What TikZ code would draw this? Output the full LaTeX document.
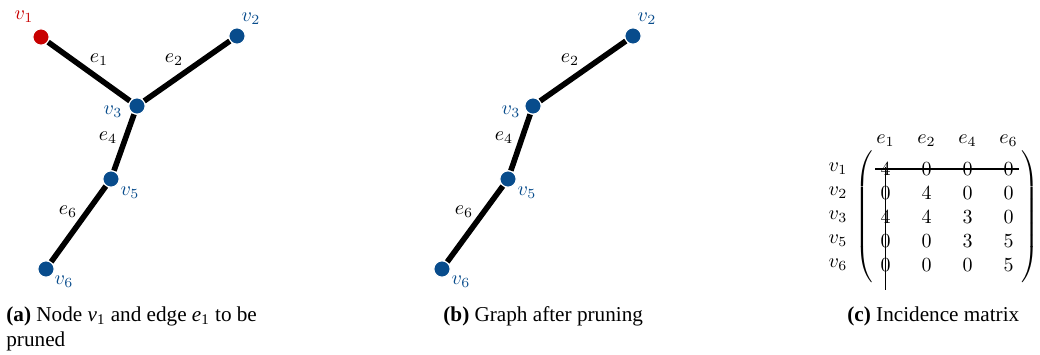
\documentclass[tikz,border=0pt]{standalone}
\usepackage{fontspec}
\setmainfont{Liberation Serif}
\usetikzlibrary{matrix,calc}
\definecolor{vblue}{RGB}{8,76,140}
\definecolor{vred}{RGB}{200,0,0}
\begin{document}
\begin{tikzpicture}[x=0.5pt,y=-0.5pt,
  vert/.style={circle,fill=vblue,draw=white,line width=0.6pt,minimum size=8.2pt,inner sep=0pt},
  rvert/.style={vert,fill=vred},
  edgeline/.style={line width=2.8pt,black},
  vlab/.style={text=vblue,inner sep=0pt},
  rlab/.style={text=vred,inner sep=0pt},
  elab/.style={inner sep=0pt},
  captext/.style={inner sep=0pt,anchor=base west,font=\fontsize{10.6pt}{12.7pt}\selectfont},
  strike/.style={line width=0.6pt,black}]
\useasboundingbox (0,0) rectangle (1040,354);
% ---------- panel (a)
\node[rvert] (a1) at (41,37) {};
\node[vert] (a2) at (237,36) {};
\node[vert] (a3) at (137,106) {};
\node[vert] (a5) at (111,179) {};
\node[vert] (a6) at (46,269) {};
\draw[edgeline] (a1) -- (a3);
\draw[edgeline] (a2) -- (a3);
\draw[edgeline] (a3) -- (a5);
\draw[edgeline] (a5) -- (a6);
\node[rlab] (la1) at (24,17) {$v_1$};
\node[vlab] (la2) at (251,19) {$v_2$};
\node[vlab] (la3) at (113,112) {$v_3$};
\node[vlab] (la5) at (130,193) {$v_5$};
\node[vlab] (la6) at (64,282) {$v_6$};
\node[elab] (le1) at (99,60) {$e_1$};
\node[elab] (le2) at (174,60) {$e_2$};
\node[elab] (le4) at (108,138) {$e_4$};
\node[elab] (le6) at (68,212) {$e_6$};
% ---------- panel (b)
\node[vert] (b2) at (633,36) {};
\node[vert] (b3) at (533,106) {};
\node[vert] (b5) at (508,179) {};
\node[vert] (b6) at (442,269) {};
\draw[edgeline] (b2) -- (b3);
\draw[edgeline] (b3) -- (b5);
\draw[edgeline] (b5) -- (b6);
\node[vlab] (lb2) at (647,19) {$v_2$};
\node[vlab] (lb3) at (511,112) {$v_3$};
\node[vlab] (lb5) at (527,193) {$v_5$};
\node[vlab] (lb6) at (461,282) {$v_6$};
\node[elab] (lbe2) at (570,60) {$e_2$};
\node[elab] (lbe4) at (504,138) {$e_4$};
\node[elab] (lbe6) at (464,212) {$e_6$};
% ---------- panel (c)
\matrix (M) [matrix of math nodes, inner xsep=0pt, inner ysep=4.5pt,
  column sep=10.5pt, row sep=0pt,
  nodes={minimum width=10pt,minimum height=12pt,inner sep=0pt,anchor=center},
  left delimiter=(, right delimiter=)] at (947,217) {
4 & 0 & 0 & 0\\
0 & 4 & 0 & 0\\
4 & 4 & 3 & 0\\
0 & 0 & 3 & 5\\
0 & 0 & 0 & 5\\
};
\coordinate (hdr) at (0,141);
\coordinate (rowx) at (838,0);
\node[elab] (h1) at (M-1-1 |- hdr) {$e_1$};
\node[elab] (h2) at (M-1-2 |- hdr) {$e_2$};
\node[elab] (h4) at (M-1-3 |- hdr) {$e_4$};
\node[elab] (h6) at (M-1-4 |- hdr) {$e_6$};
\node[elab] (r1) at (rowx |- M-1-1) {$v_1$};
\node[elab] (r2) at (rowx |- M-2-1) {$v_2$};
\node[elab] (r3) at (rowx |- M-3-1) {$v_3$};
\node[elab] (r5) at (rowx |- M-4-1) {$v_5$};
\node[elab] (r6) at (rowx |- M-5-1) {$v_6$};
\coordinate (vend) at ($(M-5-1.south)+(0,13)$);
\draw[strike] (M-1-1.west) -- (M-1-4.east);
\draw[strike] ($(M-1-1.center)+(0,-2)$) -- (vend);
% ---------- captions
\node[captext] (capa) at (6,321) {\textbf{(a)} Node \textit{v}\textsubscript{1} and edge \textit{e}\textsubscript{1} to be};
\node[captext] (capa2) at (6,346) {pruned};
\node[captext] (capb) at (443,321) {\textbf{(b)} Graph after pruning};
\node[captext] (capc) at (847,321) {\textbf{(c)} Incidence matrix};
\end{tikzpicture}
\end{document}
